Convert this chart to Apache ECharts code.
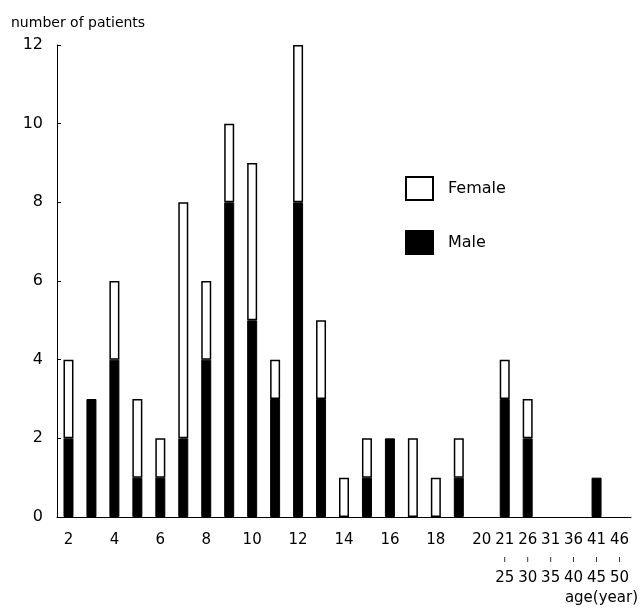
<!DOCTYPE html>
<html>
<head>
<meta charset="utf-8">
<script src="https://cdn.jsdelivr.net/npm/echarts@6/dist/echarts.min.js"></script>
<style>
html,body{margin:0;padding:0;background:#fff;}
#c{width:642px;height:611px;}
</style>
</head>
<body>
<div id="c"></div>
<script>
const categories = ["2","3","4","5","6","7","8","9","10","11","12","13","14","15","16","17","18","19","20","21-25","26-30","31-35","36-40","41-45","46-50"];
const maleValues =   [2,3,4,1,1,2,4,8,5,3,8,3,0,1,2,0,0,1,0,3,2,0,0,1,0];
const femaleValues = [2,0,2,2,1,6,2,2,4,1,4,2,1,1,0,2,1,1,0,1,1,0,0,0,0];
const yTicks = {min:0, max:12, interval:2};

const hideZero = arr => arr.map(v => v === 0 ? '-' : v);
const FONT = '"DejaVu Sans", sans-serif';
const chart = echarts.init(document.getElementById('c'), null, {renderer:'canvas'});
chart.setOption({
  animation:false,
  backgroundColor:'#fff',
  textStyle:{fontFamily:FONT, color:'#000'},
  title:{text:'number of patients', left:6, top:11, textStyle:{fontFamily:FONT, fontSize:14, fontWeight:'normal', color:'#000'}},
  graphic:[{type:'text', right:4, top:591, style:{text:'age(year)', fontFamily:FONT, fontSize:15, fill:'#000'}}],
  legend:{
    orient:'vertical', left:400, top:171, itemWidth:27, itemHeight:23, itemGap:29,
    icon:'rect',
    data:['Female','Male'],
    textStyle:{fontFamily:FONT, fontSize:16, color:'#000', padding:[0,0,0,10]}
  },
  grid:{left:57, right:11, top:45, bottom:94},
  xAxis:{
    type:'category', data:categories, boundaryGap:true,
    axisLine:{lineStyle:{color:'#000', width:1}},
    axisTick:{show:false},
    axisLabel:{
      interval:function(i){ return i%2===0 || i>=19; },
      margin:14, fontFamily:FONT, fontSize:15, color:'#000', lineHeight:19,
      formatter:function(v){
        if(v.indexOf('-')>=0){ const p=v.split('-'); return p[0]+'\n{t|ı}\n'+p[1]; }
        return v;
      },
      rich:{t:{fontSize:9, lineHeight:19, color:'#000'}}
    }
  },
  yAxis:{
    type:'value', min:yTicks.min, max:yTicks.max, interval:yTicks.interval,
    axisLine:{show:true, lineStyle:{color:'#000', width:1}},
    axisTick:{show:true, inside:true, length:4, lineStyle:{color:'#000'}},
    splitLine:{show:false},
    axisLabel:{margin:14, fontFamily:FONT, fontSize:16, color:'#000'}
  },
  series:[
    {name:'Male', type:'bar', stack:'a', data:hideZero(maleValues), barWidth:10,
     itemStyle:{color:'#000', borderColor:'#000', borderWidth:1}},
    {name:'Female', type:'bar', stack:'a', data:hideZero(femaleValues), barWidth:10,
     itemStyle:{color:'#fff', borderColor:'#000', borderWidth:1.5}}
  ]
});
</script>
</body>
</html>
